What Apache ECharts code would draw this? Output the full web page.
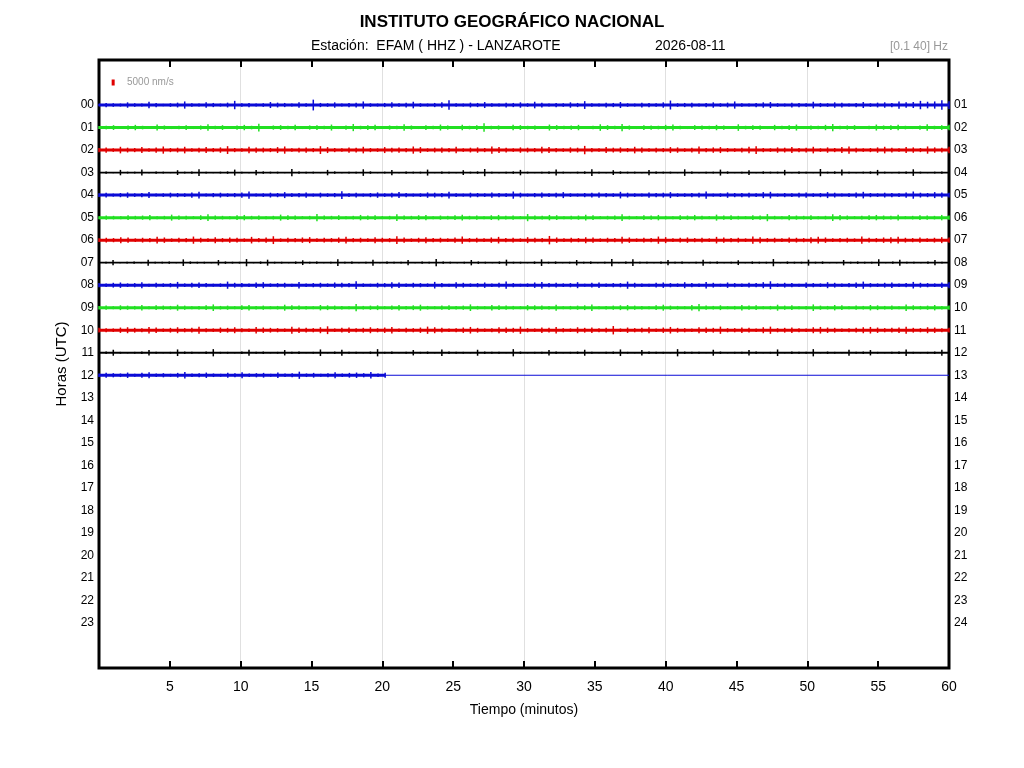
<!DOCTYPE html>
<html>
<head>
<meta charset="utf-8">
<script src="https://cdn.jsdelivr.net/npm/echarts@6/dist/echarts.min.js"></script>
<style>html,body{margin:0;padding:0;background:#fff}#c{width:1024px;height:768px}</style>
</head>
<body>
<div id="c"></div>
<script>
// Trace samples (signed peak amplitude), units of 250 nm/s, evenly spaced over each hour row
const h00 = [4,-7,6,-5,9,-6,5,-11,7,-4,6,-8,12,-6,5,-9,7,-5,8,-14,6,-7,5,-6,10,-8,7,-5,9,-6,18,-7,6,-9,5,-7,8,-12,6,-5,7,-9,6,-8,11,-6,5,-7,9,-16,6,-5,8,-7,10,-6,5,-8,7,-9,6,-11,8,-5,7,-6,9,-7,13,-6,5,-8,7,-10,6,-5,8,-7,6,-9,15,-6,7,-8,5,-7,9,-6,8,-12,6,-5,7,-9,10,-6,5,-8,7,-6,11,-7,6,-9,8,-5,7,-10,6,-8,9,-7,12,-9,10,-14,11,-12,16,-13];
const h01 = [5,-6,8,-5,7,-9,6,-4,10,-7,5,-6,8,-5,7,-11,6,-8,5,-7,9,-6,13,-5,7,-8,6,-9,5,-7,8,-6,10,-5,7,-12,6,-8,9,-5,7,-6,11,-7,5,-8,6,-10,7,-5,9,-6,8,-14,6,-7,5,-9,8,-6,7,-5,10,-8,6,-7,9,-5,6,-11,8,-6,12,-7,5,-8,7,-6,9,-10,6,-5,8,-7,6,-9,7,-5,11,-6,8,-7,5,-9,6,-8,10,-5,7,-6,9,-12,6,-7,8,-5,6,-10,7,-8,9,-6,5,-7,11,-6,8,-9];
const h02 = [7,-9,6,-11,8,-7,10,-6,9,-12,7,-8,11,-6,8,-10,7,-9,13,-7,6,-11,9,-8,7,-10,12,-6,8,-9,7,-13,10,-7,6,-9,8,-11,7,-6,10,-8,9,-7,12,-10,6,-8,9,-7,11,-6,8,-9,7,-12,10,-8,6,-9,8,-7,11,-10,7,-6,9,-8,14,-7,6,-10,8,-9,7,-11,9,-6,8,-7,10,-9,6,-8,12,-7,9,-10,7,-6,8,-11,13,-7,6,-9,8,-10,7,-8,11,-6,9,-7,10,-12,8,-6,7,-9,11,-8,6,-10,9,-7,12,-9,8,-11];
const h03 = [3,-4,2,-9,3,-3,10,-2,4,-3,2,-8,3,-4,11,-3,2,-3,4,-10,3,-2,9,-4,3,-3,2,-12,4,-3,3,-2,9,-4,2,-3,3,-11,4,-2,3,-9,2,-4,3,-3,10,-2,4,-3,2,-8,3,-4,12,-3,2,-3,4,-9,3,-2,3,-4,10,-3,2,-3,4,-11,3,-2,8,-4,3,-3,2,-9,4,-3,3,-2,11,-4,2,-3,3,-10,4,-2,3,-8,2,-4,3,-3,9,-2,4,-3,2,-12,3,-4,10,-3,2,-3,4,-9,3,-2,3,-4,11,-3,2,-3,4,-8];
const h04 = [6,-8,5,-7,9,-6,7,-10,5,-6,8,-7,6,-9,11,-5,7,-8,6,-7,9,-12,5,-6,8,-7,10,-6,7,-9,5,-8,6,-7,13,-6,8,-5,7,-9,6,-8,10,-7,5,-6,9,-8,7,-11,6,-5,8,-7,6,-9,7,-6,12,-8,5,-7,9,-6,8,-10,6,-5,7,-8,9,-7,6,-11,8,-6,5,-9,7,-8,10,-6,6,-7,8,-12,5,-6,9,-7,7,-8,6,-10,11,-5,7,-6,8,-9,6,-7,10,-8,5,-6,9,-11,7,-6,8,-7,6,-9,12,-8,7,-10,9,-8];
const h05 = [5,-7,6,-5,8,-6,7,-9,5,-6,10,-7,6,-5,8,-11,7,-6,5,-8,9,-6,7,-5,6,-10,8,-7,5,-6,12,-7,6,-8,5,-6,9,-7,8,-5,6,-11,7,-6,8,-9,5,-7,6,-8,10,-6,7,-5,8,-9,6,-7,5,-12,7,-6,9,-8,5,-6,7,-10,8,-5,6,-7,11,-6,5,-8,7,-9,6,-5,8,-7,9,-6,5,-10,7,-8,6,-5,8,-7,12,-6,5,-9,7,-6,8,-5,6,-11,9,-7,5,-6,8,-9,7,-6,10,-5,6,-8,7,-6,9,-7];
const h06 = [6,-8,7,-10,9,-6,8,-7,11,-9,6,-8,7,-12,8,-6,10,-7,9,-8,6,-11,7,-9,13,-6,8,-7,9,-10,6,-8,7,-9,11,-7,8,-6,10,-8,7,-13,9,-6,8,-10,7,-8,6,-9,12,-7,8,-6,9,-11,7,-8,6,-10,8,-7,14,-9,6,-8,7,-10,9,-6,8,-7,11,-9,6,-8,7,-12,10,-6,8,-9,7,-8,6,-11,9,-7,8,-6,12,-10,7,-8,6,-9,8,-7,10,-11,9,-6,7,-8,6,-12,8,-7,9,-10,11,-8,7,-9,6,-8,10,-9];
const h07 = [4,-3,9,-2,3,-4,2,-10,3,-3,4,-2,11,-4,3,-3,2,-9,4,-3,3,-12,2,-4,10,-3,3,-2,4,-8,3,-4,2,-3,11,-3,4,-2,3,-10,2,-4,3,-3,9,-2,4,-3,12,-4,3,-2,3,-9,4,-3,2,-4,10,-3,3,-2,4,-11,3,-4,2,-3,9,-3,4,-2,3,-12,2,-4,11,-3,3,-2,4,-9,3,-4,2,-3,10,-3,4,-2,3,-8,2,-4,3,-3,12,-2,4,-3,3,-10,3,-4,2,-2,9,-3,4,-3,3,-11,2,-4,10,-3,3,-2,4,-9,3,-4];
const h08 = [7,-6,8,-9,6,-7,10,-5,8,-6,7,-11,6,-8,9,-7,5,-6,12,-8,7,-6,9,-10,6,-7,8,-5,11,-6,7,-8,6,-9,8,-7,13,-6,5,-8,7,-10,9,-6,8,-7,6,-11,7,-5,10,-8,6,-7,9,-6,8,-12,7,-5,6,-9,11,-7,8,-6,7,-10,5,-8,9,-6,7,-7,12,-8,6,-5,8,-9,7,-6,10,-7,6,-11,8,-5,9,-7,6,-8,7,-10,13,-6,8,-7,5,-9,7,-6,10,-8,6,-7,9,-12,7,-6,8,-9,6,-7,11,-8,7,-6,9,-10];
const h09 = [6,-7,5,-8,7,-6,9,-5,8,-7,6,-10,7,-5,6,-8,11,-6,7,-5,8,-9,6,-7,5,-6,10,-8,7,-6,5,-9,8,-7,6,-5,12,-6,7,-8,5,-7,9,-6,8,-10,6,-5,7,-8,6,-7,11,-6,5,-9,8,-7,6,-5,9,-8,7,-6,10,-5,6,-7,8,-11,5,-6,7,-8,9,-7,6,-5,8,-10,7,-6,5,-9,12,-7,6,-8,5,-6,9,-7,8,-5,6,-10,7,-8,5,-6,11,-7,6,-9,8,-5,7,-6,9,-8,6,-7,5,-11,8,-6,7,-9,6,-7];
const h10 = [8,-7,6,-9,10,-8,7,-11,9,-6,8,-10,7,-8,12,-7,6,-9,8,-10,7,-6,11,-9,8,-7,6,-12,9,-8,7,-10,13,-6,8,-9,7,-8,10,-7,9,-11,6,-8,7,-9,12,-10,8,-6,7,-9,11,-8,6,-7,10,-9,8,-12,7,-6,9,-8,11,-7,6,-10,8,-9,7,-8,14,-6,9,-7,8,-10,6,-9,11,-8,7,-6,10,-9,8,-12,7,-7,9,-8,6,-10,12,-7,8,-9,7,-6,10,-11,9,-8,6,-7,8,-10,11,-9,7,-8,9,-12,8,-7,10,-9,7,-8];
const h11 = [3,-4,10,-3,2,-3,4,-9,3,-2,3,-11,4,-3,2,-4,12,-3,3,-2,4,-10,3,-4,2,-3,9,-3,4,-2,3,-11,2,-4,10,-3,3,-2,4,-12,3,-4,2,-3,9,-3,4,-2,11,-4,3,-3,2,-10,4,-3,3,-2,12,-4,2,-3,3,-9,4,-2,3,-4,10,-3,2,-3,4,-11,3,-2,9,-4,3,-3,2,-12,4,-3,3,-2,10,-4,2,-3,3,-9,4,-2,3,-11,2,-4,3,-3,12,-2,4,-3,2,-10,3,-4,9,-3,2,-3,4,-11,3,-2,3,-4,10,-3];
const h12 = [6,-8,7,-6,9,-5,8,-10,6,-7,5,-8,11,-6,7,-9,6,-5,8,-7,10,-6,7,-8,5,-9,6,-7,12,-6,8,-5,7,-10,6,-8,9,-7,11,-6,8];
const h12End = 20.2;          // minutes of recorded data in the last hour
const traces = [h00,h01,h02,h03,h04,h05,h06,h07,h08,h09,h10,h11,h12];
const traceColors = ['#0b0bd6','#22e022','#e00000','#000000'];
const leftLabels = ['00','01','02','03','04','05','06','07','08','09','10','11','12','13','14','15','16','17','18','19','20','21','22','23'];
const rightLabels = ['01','02','03','04','05','06','07','08','09','10','11','12','13','14','15','16','17','18','19','20','21','22','23','24'];
const sampleUnit = 250;       // nm/s per data unit
const scaleBar = 5000;        // nm/s
const nmPerRow = 18800;       // nm/s per hour-row spacing
const FONT = '"Liberation Sans", Arial, sans-serif';

const series = [];
traces.forEach((arr, h) => {
  const span = (h === traces.length - 1) ? h12End : 60;
  const step = span / (arr.length - 1);
  const color = traceColors[h % 4];
  const isBlack = (h % 4) === 3;
  // trace core
  series.push({
    type: 'line', data: [[0, h], [span, h]], showSymbol: false, silent: true, animation: false,
    lineStyle: { color, width: isBlack ? 1.8 : 3 }
  });
  if (span < 60) {
    series.push({
      type: 'line', data: [[span, h], [60, h]], showSymbol: false, silent: true, animation: false,
      lineStyle: { color, width: 1 }
    });
  }
  // sample excursions
  series.push({
    type: 'custom', silent: true, animation: false,
    data: arr.map((v, i) => [i * step, h, Math.abs(v) * sampleUnit / nmPerRow]),
    renderItem: (params, api) => {
      const t = api.value(0), base = api.value(1), a = api.value(2);
      const p1 = api.coord([t, base - a]);
      const p2 = api.coord([t, base + a]);
      return { type: 'line', shape: { x1: p1[0], y1: p1[1], x2: p2[0], y2: p2[1] },
               style: { stroke: color, lineWidth: 1.5 } };
    },
    encode: { x: 0, y: 1 }
  });
});
// scale bar
series.push({
  type: 'line', silent: true, animation: false, showSymbol: false,
  data: [[1, -1 - scaleBar / nmPerRow / 2], [1, -1 + scaleBar / nmPerRow / 2]],
  lineStyle: { color: '#e00000', width: 3 }
});

const xBase = {
  type: 'value', min: 0, max: 60, interval: 5,
  axisLine: { show: false, onZero: false },
  axisTick: { show: true, inside: true, length: 7, lineStyle: { color: '#000', width: 2 } },
  splitLine: { show: false }
};
const yBase = {
  type: 'value', min: -2, max: 25, interval: 1, inverse: true,
  axisLine: { show: false, onZero: false }, axisTick: { show: false }, splitLine: { show: false }
};

const chart = echarts.init(document.getElementById('c'));
chart.setOption({
  backgroundColor: '#fff',
  animation: false,
  title: {
    text: 'INSTITUTO GEOGRÁFICO NACIONAL', left: 'center', top: 9,
    textStyle: { fontFamily: FONT, fontSize: 17, fontWeight: 'bold', color: '#000' }
  },
  graphic: [
    { type: 'text', left: 311, top: 39, style: { text: 'Estación:  EFAM ( HHZ ) - LANZAROTE', font: '14px ' + FONT, fill: '#000' } },
    { type: 'text', left: 655, top: 39, style: { text: '2026-08-11', font: '14px ' + FONT, fill: '#000' } },
    { type: 'text', right: 76, top: 41, style: { text: '[0.1 40] Hz', font: '12px ' + FONT, fill: '#999' } },
    { type: 'text', left: 127, top: 77, style: { text: '5000 nm/s', font: '10px ' + FONT, fill: '#999' } }
  ],
  grid: { left: 99, top: 60, width: 850, height: 608, show: true, borderColor: '#000', borderWidth: 3, backgroundColor: 'transparent' },
  xAxis: [
    Object.assign({}, xBase, {
      position: 'bottom',
      name: 'Tiempo (minutos)', nameLocation: 'middle', nameGap: 35,
      nameTextStyle: { fontFamily: FONT, fontSize: 14, color: '#000' },
      axisLabel: { fontFamily: FONT, fontSize: 14, color: '#000', margin: 12, formatter: v => v === 0 ? '' : String(v) }
    }),
    Object.assign({}, xBase, { position: 'top', axisLabel: { show: false } }),
    { type: 'value', min: 0, max: 60, interval: 10, position: 'bottom',
      axisLine: { show: false, onZero: false }, axisTick: { show: false }, axisLabel: { show: false },
      splitLine: { show: true, showMinLine: false, showMaxLine: false, lineStyle: { color: '#e0e0e0', width: 1 } } }
  ],
  yAxis: [
    Object.assign({}, yBase, {
      position: 'left',
      name: 'Horas (UTC)', nameLocation: 'middle', nameGap: 24,
      nameTextStyle: { fontFamily: FONT, fontSize: 15, color: '#000' },
      axisLabel: { fontFamily: FONT, fontSize: 12, color: '#000', margin: 5,
        formatter: v => (v >= 0 && v <= 23) ? leftLabels[v] : '' }
    }),
    Object.assign({}, yBase, {
      position: 'right',
      axisLabel: { fontFamily: FONT, fontSize: 12, color: '#000', margin: 5,
        formatter: v => (v >= 0 && v <= 23) ? rightLabels[v] : '' }
    })
  ],
  series
});
</script>
</body>
</html>
